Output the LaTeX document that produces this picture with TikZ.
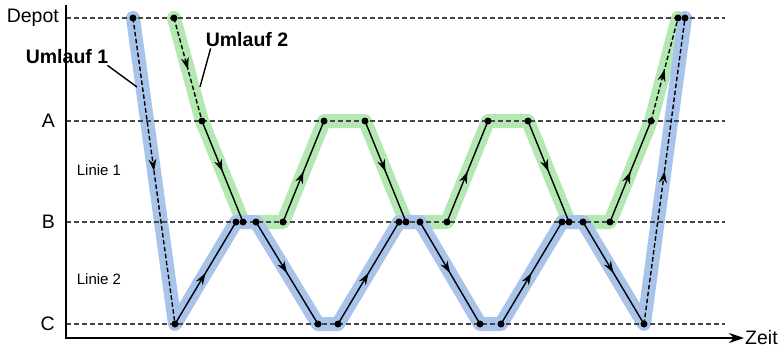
\documentclass[tikz,border=0pt]{standalone}
\usepackage{fontspec}
\setmainfont{Liberation Sans}
\usetikzlibrary{arrows.meta, decorations.markings}
\definecolor{umlaufblau}{HTML}{A9C4EB}
\definecolor{umlaufgruen}{HTML}{B3E8B3}
\tikzset{x=1pt, y=1pt, % one unit per point
ebene/.style={ % dashed line for each stop
draw=black!72, line width=1.3pt, dash pattern=on 5pt off 3pt},
band/.style={ % broad coloured underlay of a run
line width=14pt, line join=round, line cap=round},
fahrt/.style={ % trip with arrow in the middle
draw, line width=1.4pt, postaction={decorate},
decoration={markings, mark=at position 0.5 with {\arrow{Stealth[length=12pt,width=8pt]}}}},
leerfahrt/.style={fahrt, dash pattern=on 4.5pt off 2.5pt}, % empty run to/from depot
halt/.style={circle, fill=black, inner sep=0pt, minimum size=7pt},
beschriftung/.style={font=\fontsize{19.5}{22}\selectfont, inner sep=1pt}}

\begin{document}
\begin{tikzpicture}
    \useasboundingbox (0,0) rectangle (779,349);

    % Umlauf 1
    \coordinate (u1a) at (133,331);
    \coordinate (u1b) at (175,25);
    \coordinate (u1c) at (236,127);
    \coordinate (u1d) at (256,127);
    \coordinate (u1e) at (318,25);
    \coordinate (u1f) at (338,25);
    \coordinate (u1g) at (399,127);
    \coordinate (u1h) at (420,127);
    \coordinate (u1i) at (480,25);
    \coordinate (u1j) at (501,25);
    \coordinate (u1k) at (562,127);
    \coordinate (u1l) at (583,127);
    \coordinate (u1m) at (644,25);
    \coordinate (u1n) at (685,331);

    % Umlauf 2
    \coordinate (u2a) at (174,331);
    \coordinate (u2b) at (202,228);
    \coordinate (u2c) at (243,127);
    \coordinate (u2d) at (283,127);
    \coordinate (u2e) at (324,228);
    \coordinate (u2f) at (365,228);
    \coordinate (u2g) at (406,127);
    \coordinate (u2h) at (447,127);
    \coordinate (u2i) at (488,228);
    \coordinate (u2j) at (528,228);
    \coordinate (u2k) at (569,127);
    \coordinate (u2l) at (610,127);
    \coordinate (u2m) at (651,228);
    \coordinate (u2n) at (678,331);

    \draw[band, umlaufgruen] (u2a) -- (u2b) -- (u2c) -- (u2d) -- (u2e) -- (u2f) -- (u2g)
        -- (u2h) -- (u2i) -- (u2j) -- (u2k) -- (u2l) -- (u2m) -- (u2n);
    \draw[band, umlaufblau] (u1a) -- (u1b) -- (u1c) -- (u1d) -- (u1e) -- (u1f) -- (u1g)
        -- (u1h) -- (u1i) -- (u1j) -- (u1k) -- (u1l) -- (u1m) -- (u1n);

    % stops
    \node[beschriftung, anchor=east] (depot) at (60,331) {Depot};
    \node[beschriftung, anchor=east] (a) at (56,228) {A};
    \node[beschriftung, anchor=east] (b) at (56,127) {B};
    \node[beschriftung, anchor=east] (c) at (56,25) {C};
    \foreach \y in {331,228,127,25}
        \draw[ebene] (66,\y) -- (725,\y);

    \node[font=\fontsize{15}{18}\selectfont] (linie1) at (99,179) {Linie 1};
    \node[font=\fontsize{15}{18}\selectfont] (linie2) at (99,70) {Linie 2};

    % axes
    \coordinate (ursprung) at (66,11);
    \node[beschriftung, anchor=west] (zeit) at (744,11) {Zeit};
    \draw[line width=1.4pt, -{Stealth[length=15pt,width=10pt]}] (66,344) -- (ursprung) -- (zeit.west);

    % trips
    \draw[leerfahrt] (u1a) -- (u1b);
    \draw[fahrt] (u1b) -- (u1c);
    \draw[fahrt] (u1d) -- (u1e);
    \draw[fahrt] (u1f) -- (u1g);
    \draw[fahrt] (u1h) -- (u1i);
    \draw[fahrt] (u1j) -- (u1k);
    \draw[fahrt] (u1l) -- (u1m);
    \draw[leerfahrt] (u1m) -- (u1n);

    \draw[leerfahrt] (u2a) -- (u2b);
    \draw[fahrt] (u2b) -- (u2c);
    \draw[fahrt] (u2d) -- (u2e);
    \draw[fahrt] (u2f) -- (u2g);
    \draw[fahrt] (u2h) -- (u2i);
    \draw[fahrt] (u2j) -- (u2k);
    \draw[fahrt] (u2l) -- (u2m);
    \draw[leerfahrt] (u2m) -- (u2n);

    \foreach \p in {u1a,u1b,u1c,u1d,u1e,u1f,u1g,u1h,u1i,u1j,u1k,u1l,u1m,u1n,
                    u2a,u2b,u2c,u2d,u2e,u2f,u2g,u2h,u2i,u2j,u2k,u2l,u2m,u2n}
        \node[halt] at (\p) {};

    % labels of the runs
    \node[beschriftung, font=\fontsize{19.5}{22}\selectfont\bfseries] (umlauf1) at (67,292) {Umlauf 1};
    \node[beschriftung, font=\fontsize{19.5}{22}\selectfont\bfseries] (umlauf2) at (247,309) {Umlauf 2};
    \coordinate (zeiger1) at (137,262);
    \coordinate (zeiger2) at (200,262);
    \draw[line width=1.4pt] (umlauf1.south east) ++(-2,0) -- (zeiger1);
    \draw[line width=1.4pt] (umlauf2.south west) ++(6,0) -- (zeiger2);
    
\end{tikzpicture}
\end{document}
